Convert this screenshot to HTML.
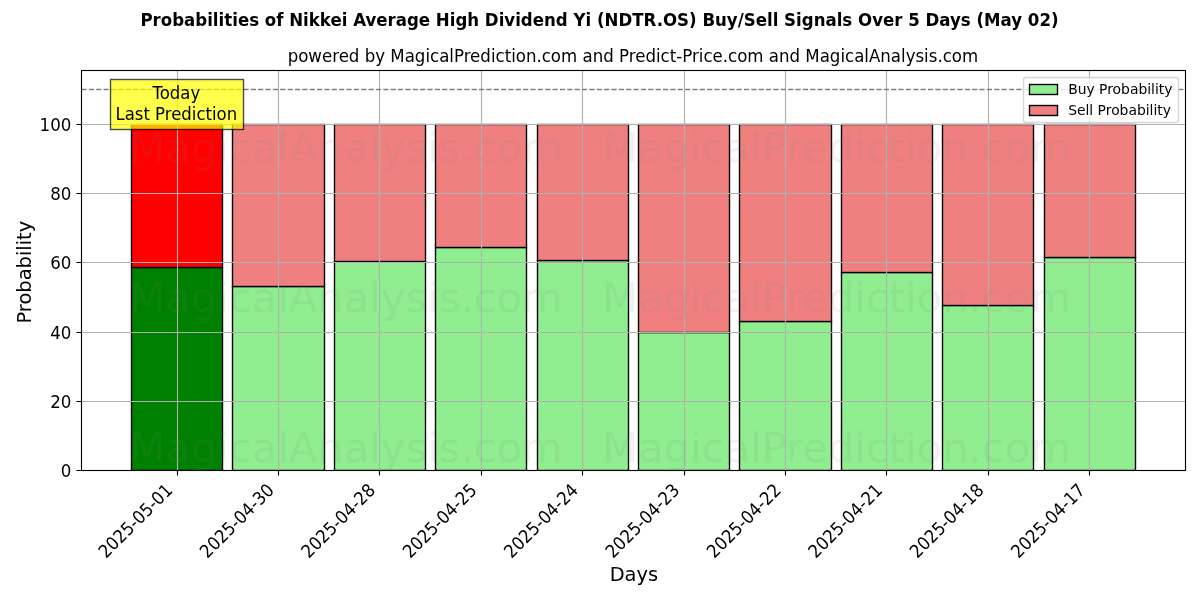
<!DOCTYPE html>
<html lang="en"><head><meta charset="utf-8"><title>Probabilities chart</title>
<style>
html,body{margin:0;padding:0;background:#fff;overflow:hidden}
svg{display:block;font-family:"DejaVu Sans","Liberation Sans",sans-serif;fill:#000}
</style>
</head><body>
<svg width="1200" height="600" viewBox="0 0 1200 600">
<rect width="1200" height="600" fill="#fff"/>
<defs><clipPath id="ax"><rect x="80.77" y="70.15" width="1104.25" height="400"/></clipPath></defs>
<g clip-path="url(#ax)" stroke="#000" stroke-width="1.389" stroke-linejoin="miter">
<rect x="131.5" y="267.5" width="91" height="203" fill="#008000"/>
<rect x="232.5" y="286.5" width="92" height="184" fill="#90ee90"/>
<rect x="334.5" y="261.5" width="91" height="209" fill="#90ee90"/>
<rect x="435.5" y="247.5" width="91" height="223" fill="#90ee90"/>
<rect x="537.5" y="260.5" width="91" height="210" fill="#90ee90"/>
<rect x="638.5" y="332.5" width="91" height="138" fill="#90ee90"/>
<rect x="739.5" y="321.5" width="92" height="149" fill="#90ee90"/>
<rect x="841.5" y="272.5" width="91" height="198" fill="#90ee90"/>
<rect x="942.5" y="305.5" width="91" height="165" fill="#90ee90"/>
<rect x="1044.5" y="257.5" width="91" height="213" fill="#90ee90"/>
<rect x="131.5" y="124.5" width="91" height="143" fill="#ff0000"/>
<rect x="232.5" y="124.5" width="92" height="162" fill="#f08080"/>
<rect x="334.5" y="124.5" width="91" height="137" fill="#f08080"/>
<rect x="435.5" y="124.5" width="91" height="123" fill="#f08080"/>
<rect x="537.5" y="124.5" width="91" height="136" fill="#f08080"/>
<rect x="638.5" y="124.5" width="91" height="208" fill="#f08080"/>
<rect x="739.5" y="124.5" width="92" height="197" fill="#f08080"/>
<rect x="841.5" y="124.5" width="91" height="148" fill="#f08080"/>
<rect x="942.5" y="124.5" width="91" height="181" fill="#f08080"/>
<rect x="1044.5" y="124.5" width="91" height="133" fill="#f08080"/>
</g>
<g stroke="#b0b0b0" stroke-width="1.111" fill="none">
<path d="M177.5 470.15V70.15M278.5 470.15V70.15M379.5 470.15V70.15M481.5 470.15V70.15M582.5 470.15V70.15M684.5 470.15V70.15M785.5 470.15V70.15M886.5 470.15V70.15M988.5 470.15V70.15M1089.5 470.15V70.15M80.77 470.5H1185.02M80.77 401.5H1185.02M80.77 332.5H1185.02M80.77 262.5H1185.02M80.77 193.5H1185.02M80.77 124.5H1185.02"/>
</g>
<path d="M177.5 470.5v5M278.5 470.5v5M379.5 470.5v5M481.5 470.5v5M582.5 470.5v5M684.5 470.5v5M785.5 470.5v5M886.5 470.5v5M988.5 470.5v5M1089.5 470.5v5M81.5 470.5h-5M81.5 401.5h-5M81.5 332.5h-5M81.5 262.5h-5M81.5 193.5h-5M81.5 124.5h-5" stroke="#000" stroke-width="1.111" fill="none"/>
<text transform="translate(173.64 491.33) rotate(-45) scale(0.989 1.08)" font-size="16.67px" text-anchor="end">2025-05-01</text>
<text transform="translate(275.04 491.33) rotate(-45) scale(0.989 1.08)" font-size="16.67px" text-anchor="end">2025-04-30</text>
<text transform="translate(376.44 491.33) rotate(-45) scale(0.989 1.08)" font-size="16.67px" text-anchor="end">2025-04-28</text>
<text transform="translate(477.84 491.33) rotate(-45) scale(0.989 1.08)" font-size="16.67px" text-anchor="end">2025-04-25</text>
<text transform="translate(579.25 491.33) rotate(-45) scale(0.989 1.08)" font-size="16.67px" text-anchor="end">2025-04-24</text>
<text transform="translate(680.65 491.33) rotate(-45) scale(0.989 1.08)" font-size="16.67px" text-anchor="end">2025-04-23</text>
<text transform="translate(782.05 491.33) rotate(-45) scale(0.989 1.08)" font-size="16.67px" text-anchor="end">2025-04-22</text>
<text transform="translate(883.45 491.33) rotate(-45) scale(0.989 1.08)" font-size="16.67px" text-anchor="end">2025-04-21</text>
<text transform="translate(984.85 491.33) rotate(-45) scale(0.989 1.08)" font-size="16.67px" text-anchor="end">2025-04-18</text>
<text transform="translate(1086.25 491.33) rotate(-45) scale(0.989 1.08)" font-size="16.67px" text-anchor="end">2025-04-17</text>
<text transform="translate(71.35 477.35) scale(1 1.08)" font-size="16.67px" text-anchor="end">0</text>
<text transform="translate(71.35 408.35) scale(1 1.08)" font-size="16.67px" text-anchor="end">20</text>
<text transform="translate(71.35 339.35) scale(1 1.08)" font-size="16.67px" text-anchor="end">40</text>
<text transform="translate(71.35 269.35) scale(1 1.08)" font-size="16.67px" text-anchor="end">60</text>
<text transform="translate(71.35 200.35) scale(1 1.08)" font-size="16.67px" text-anchor="end">80</text>
<text transform="translate(71.35 131.35) scale(1 1.08)" font-size="16.67px" text-anchor="end">100</text>
<text transform="translate(633.89 581.1)" font-size="19.44px" text-anchor="middle">Days</text>
<text transform="translate(30.64 272.15) rotate(-90)" font-size="19.44px" text-anchor="middle">Probability</text>
<path d="M80.77 89.5H1185.02" stroke="#808080" stroke-width="1.389" stroke-dasharray="5.139 2.222" stroke-dashoffset="-0.7" fill="none"/>
<rect x="81.5" y="70.5" width="1104" height="400" fill="none" stroke="#000" stroke-width="1.111"/>
<rect x="110.5" y="79.5" width="133" height="50" fill="#ffff00" stroke="#000" stroke-width="1.389" opacity="0.7"/>
<text transform="translate(176.3 98.5) scale(0.992 1.08)" font-size="16.67px" text-anchor="middle">Today</text>
<text transform="translate(176.3 119.5) scale(0.992 1.08)" font-size="16.67px" text-anchor="middle">Last Prediction</text>
<text transform="translate(632.89 61.82) scale(0.9975 1.08)" font-size="16.67px" text-anchor="middle">powered by MagicalPrediction.com and Predict-Price.com and MagicalAnalysis.com</text>
<rect x="1023.5" y="77.5" width="155" height="45" rx="2.78" fill="#fff" stroke="#ccc" stroke-width="1.389" opacity="0.8"/>
<rect x="1029.5" y="84.5" width="28" height="10" fill="#90ee90" stroke="#000" stroke-width="1.389"/>
<rect x="1029.5" y="105.5" width="28" height="10" fill="#f08080" stroke="#000" stroke-width="1.389"/>
<text transform="translate(1068.14 94.2)" font-size="13.89px">Buy Probability</text>
<text transform="translate(1068.14 114.59)" font-size="13.89px">Sell Probability</text>
<text transform="translate(599.5 25.53) scale(0.9963 1.08)" font-size="16.67px" text-anchor="middle" font-weight="700">Probabilities of Nikkei Average High Dividend Yi (NDTR.OS) Buy/Sell Signals Over 5 Days (May 02)</text>
<g font-size="41.667px" fill="#808080" opacity="0.1" text-anchor="middle">
<text x="346" y="161.5">MagicalAnalysis.com</text><text x="836.5" y="161.5">MagicalPrediction.com</text>
<text x="346" y="311.5">MagicalAnalysis.com</text><text x="836.5" y="311.5">MagicalPrediction.com</text>
<text x="346" y="461.5">MagicalAnalysis.com</text><text x="836.5" y="461.5">MagicalPrediction.com</text>
</g>
</svg>
</body></html>
